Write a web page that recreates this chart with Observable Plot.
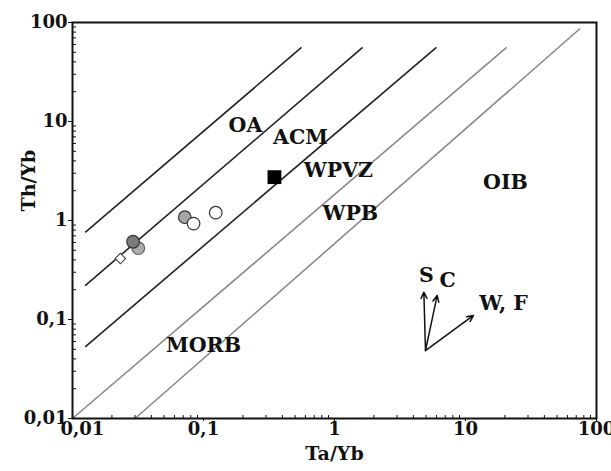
<!DOCTYPE html>
<html>
<head>
<meta charset="utf-8">
<script src="https://cdn.jsdelivr.net/npm/d3@7"></script>
<script src="https://cdn.jsdelivr.net/npm/@observablehq/plot@0.6"></script>
<style>
  html, body { margin: 0; padding: 0; background: #fff; }
</style>
</head>
<body>
<div id="chart"></div>
<script>
// ---- axis ticks ----
const majorTicks = [0.01, 0.1, 1, 10, 100];
const tickLabels = ["0,01", "0,1", "1", "10", "100"];

// ---- boundary lines (Ta/Yb, Th/Yb endpoints) ----
const darkLineX1 = [0.0125, 0.0125, 0.0125];
const darkLineY1 = [0.76, 0.22, 0.053];
const darkLineX2 = [0.56, 1.64, 6.0];
const darkLineY2 = [56, 56, 56];
const grayLineX1 = [0.01, 0.03];
const grayLineY1 = [0.01, 0.01];
const grayLineX2 = [20.6, 75];
const grayLineY2 = [56, 87];

// ---- field labels ----
const fieldNames = ["OA", "ACM", "WPVZ", "WPB", "OIB", "MORB"];
const fieldX = [0.209, 0.55, 1.07, 1.32, 20.2, 0.1];
const fieldY = [9.1, 6.9, 3.2, 1.18, 2.42, 0.0546];

// ---- samples ----
const lightGrayX = [0.0318], lightGrayY = [0.525];
const darkGrayX = [0.029], darkGrayY = [0.61];
const midGrayX = [0.072], midGrayY = [1.08];
const openCircleX = [0.084, 0.124], openCircleY = [0.93, 1.2];
const diamondX = [0.0232], diamondY = [0.413];
const squareX = [0.348], squareY = [2.74];

// ---- trend vectors ----
const vecX1 = [4.95, 4.95, 4.95];
const vecY1 = [0.0486, 0.0486, 0.0486];
const vecX2 = [4.81, 6.08, 11.5];
const vecY2 = [0.189, 0.175, 0.110];
const vecNames = ["S", "C", "W, F"];
const vecLabelX = [5.03, 7.3, 19.5];
const vecLabelY = [0.278, 0.248, 0.145];

const idx = n => d3.range(n);
const minorTicks = d3.scaleLog().domain([0.01, 100]).ticks().filter(t => !majorTicks.includes(t));
const fmt = d => tickLabels[majorTicks.findIndex(t => Math.abs(t - d) / t < 1e-9)];
const serif = "DejaVu Serif";
const tickFont = {fontSize: 18, fontFamily: serif, fontWeight: "bold", label: null};

const chart = Plot.plot({
  width: 611,
  height: 471,
  marginLeft: 72,
  marginTop: 22,
  marginRight: 15,
  marginBottom: 53,
  style: {fontFamily: serif, fontWeight: "bold", background: "white", color: "#111"},
  x: {type: "log", domain: [0.01, 100]},
  y: {type: "log", domain: [0.01, 100]},
  marks: [
    // boundary lines
    Plot.link(idx(darkLineX1.length), {
      x1: i => darkLineX1[i], y1: i => darkLineY1[i],
      x2: i => darkLineX2[i], y2: i => darkLineY2[i],
      stroke: "#222", strokeWidth: 1.6
    }),
    Plot.link(idx(grayLineX1.length), {
      x1: i => grayLineX1[i], y1: i => grayLineY1[i],
      x2: i => grayLineX2[i], y2: i => grayLineY2[i],
      stroke: "#8a8a8a", strokeWidth: 1.6
    }),
    // axes
    Plot.axisX({ticks: minorTicks, tickSize: -3, tickFormat: () => "", stroke: "#111"}),
    Plot.axisY({ticks: minorTicks, tickSize: -4, tickFormat: () => "", stroke: "#111"}),
    Plot.axisX({ticks: majorTicks.slice(1), tickSize: 3, tickPadding: 1, tickFormat: fmt, ...tickFont}),
    Plot.axisX({ticks: majorTicks.slice(0, 1), tickSize: 3, tickPadding: 1, tickFormat: fmt, textAnchor: "start", dx: -12, ...tickFont}),
    Plot.axisY({ticks: majorTicks, tickSize: 4, tickPadding: 1, tickFormat: fmt, ...tickFont}),
    Plot.text(["Ta/Yb"], {frameAnchor: "bottom", dy: 41, fontSize: 19, fontFamily: serif, fontWeight: "bold"}),
    Plot.text(["Th/Yb"], {frameAnchor: "left", dx: -44, dy: -9, rotate: -90, fontSize: 19, fontFamily: serif, fontWeight: "bold"}),
    Plot.frame({stroke: "#111", strokeWidth: 2}),
    // field labels
    Plot.text(idx(fieldNames.length), {
      x: i => fieldX[i], y: i => fieldY[i], text: i => fieldNames[i],
      fontSize: 20.5, fontFamily: serif, fontWeight: "bold", fill: "#111"
    }),
    // samples
    Plot.dot(idx(lightGrayX.length), {x: i => lightGrayX[i], y: i => lightGrayY[i], r: 6.3, fill: "#ababab", stroke: "#666", strokeWidth: 1.2}),
    Plot.dot(idx(darkGrayX.length), {x: i => darkGrayX[i], y: i => darkGrayY[i], r: 6.3, fill: "#7b7b7b", stroke: "#333", strokeWidth: 1.2}),
    Plot.dot(idx(midGrayX.length), {x: i => midGrayX[i], y: i => midGrayY[i], r: 6.3, fill: "#a6a6a6", stroke: "#333", strokeWidth: 1.2}),
    Plot.dot(idx(openCircleX.length), {x: i => openCircleX[i], y: i => openCircleY[i], r: 6.3, fill: "white", stroke: "#333", strokeWidth: 1.2}),
    Plot.dot(idx(diamondX.length), {x: i => diamondX[i], y: i => diamondY[i], r: 4.2, symbol: "square", rotate: 45, fill: "white", stroke: "#444", strokeWidth: 1.1}),
    Plot.dot(idx(squareX.length), {x: i => squareX[i], y: i => squareY[i], r: 7.8, symbol: "square", fill: "#000"}),
    // trend vectors
    Plot.arrow(idx(vecX1.length), {
      x1: i => vecX1[i], y1: i => vecY1[i], x2: i => vecX2[i], y2: i => vecY2[i],
      stroke: "#111", strokeWidth: 1.5, headLength: 7, headAngle: 50
    }),
    Plot.text(idx(vecNames.length), {
      x: i => vecLabelX[i], y: i => vecLabelY[i], text: i => vecNames[i],
      fontSize: 20.5, fontFamily: serif, fontWeight: "bold", fill: "#111"
    })
  ]
});
document.getElementById("chart").appendChild(chart);
</script>
</body>
</html>
